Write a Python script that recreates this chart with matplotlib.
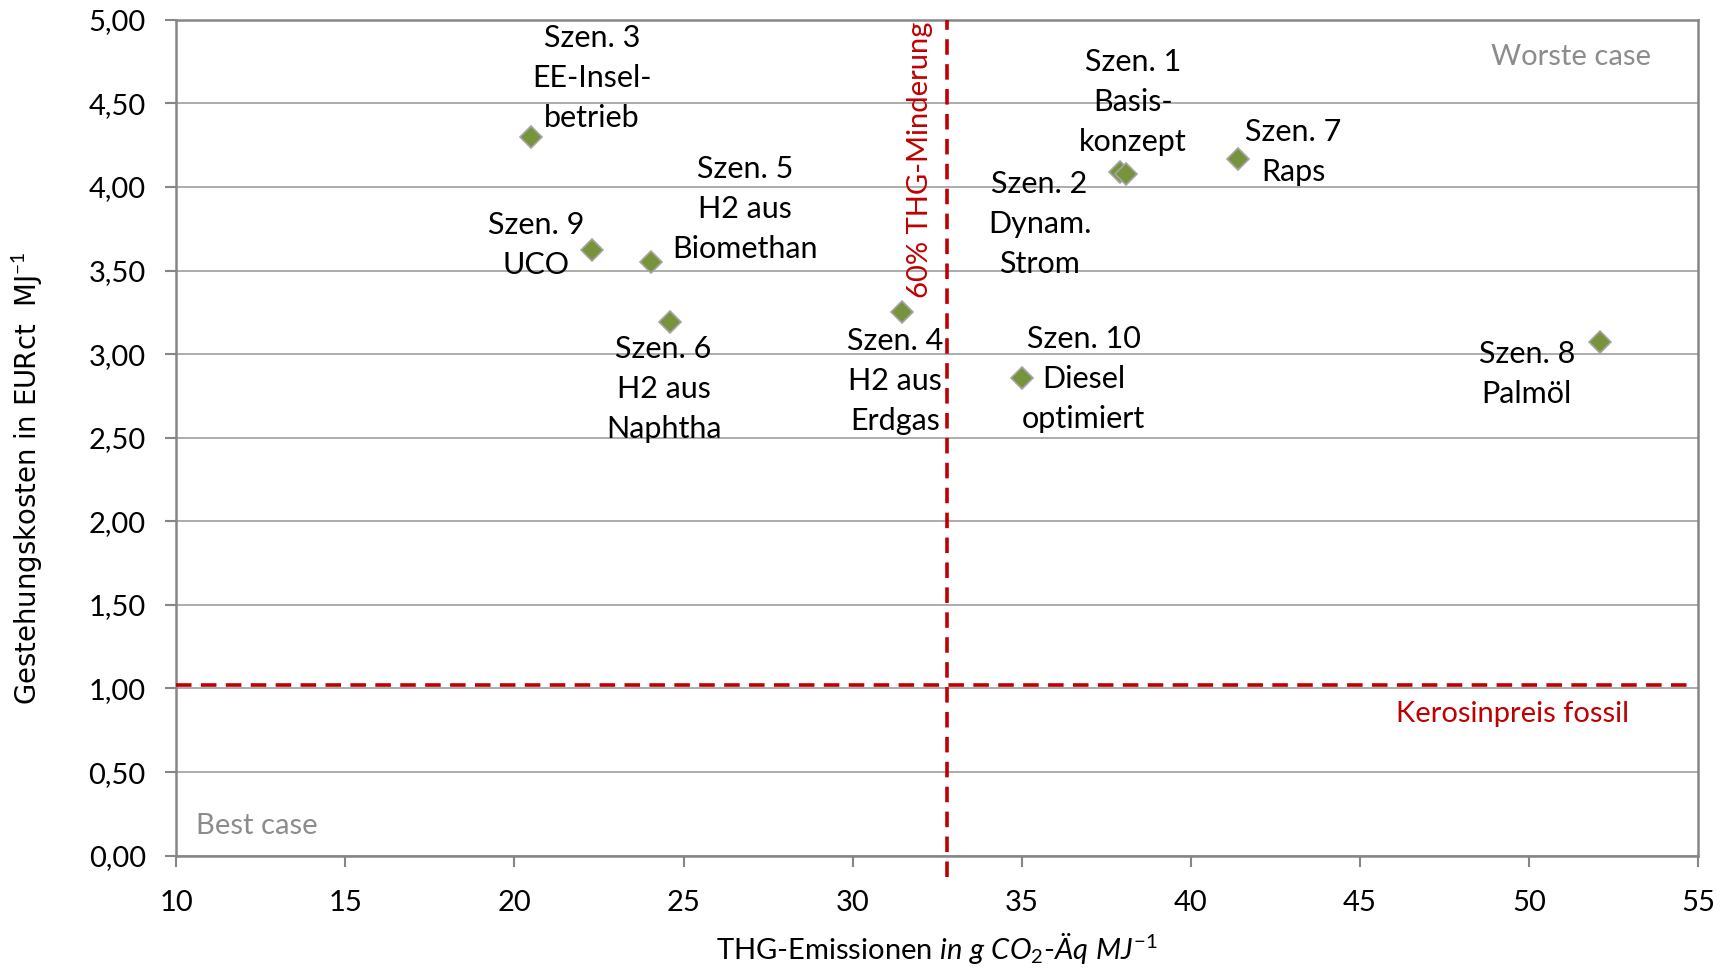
import matplotlib
matplotlib.use('Agg')
import matplotlib.pyplot as plt
from matplotlib.ticker import FuncFormatter, MultipleLocator

plt.rcParams['font.family'] = ['Lato', 'DejaVu Sans']
plt.rcParams['mathtext.fontset'] = 'custom'
plt.rcParams['mathtext.rm'] = 'Lato'
plt.rcParams['mathtext.it'] = 'Lato:italic'

# Daten der Szenarien
szenarien = ['Szen. 1\nBasis-\nkonzept', 'Szen. 2\nDynam.\nStrom', 'Szen. 3\nEE-Insel-\nbetrieb',
             'Szen. 4\nH2 aus\nErdgas', 'Szen. 5\nH2 aus\nBiomethan', 'Szen. 6\nH2 aus\nNaphtha',
             'Szen. 7\nRaps', 'Szen. 8\nPalmöl', 'Szen. 9\nUCO', 'Szen. 10\nDiesel\noptimiert']
emissionen = [37.9, 38.1, 20.5, 31.45, 24.05, 24.6, 41.4, 52.1, 22.3, 35.0]
kosten = [4.09, 4.08, 4.30, 3.25, 3.55, 3.19, 4.17, 3.07, 3.62, 2.86]

thg_grenze = 32.8       # 60% THG-Minderung
kerosinpreis = 1.02     # Kerosinpreis fossil

# Lage der Beschriftungen (Mitte des Textblocks, Datenkoordinaten)
label_pos = [(38.3, 4.51), (35.53, 3.78), (22.29, 4.65), (31.26, 2.84), (26.82, 3.87),
             (24.41, 2.79), (43.03, 4.21), (49.94, 2.88), (20.63, 3.65), (36.83, 2.85)]

rot = '#C00000'
grau = '#868686'

fig = plt.figure(figsize=(17.29, 9.73), dpi=100)
ax = fig.add_axes([0.102, 0.1206, 0.880, 0.8591])

# Referenzlinien
ax.axvline(thg_grenze, ymin=-0.025, ymax=1, color=rot, lw=2.6, ls=(0, (4.3, 2.6)), clip_on=False, zorder=3)
ax.axhline(kerosinpreis, xmin=0, xmax=0.996, color=rot, lw=2.6, ls=(0, (4.3, 2.6)), zorder=3)

# Punkte
ax.plot(emissionen, kosten, ls='none', marker='D', ms=11, mfc='#77933C', mec='#A5A5A5', mew=1.2, zorder=4)

for txt, (lx, ly) in zip(szenarien, label_pos):
    ax.text(lx, ly, txt, ha='center', va='center', fontsize=22, linespacing=1.52, zorder=5)

ax.text(51.25, 4.78, 'Worste case', ha='center', va='center', fontsize=21, color='#8C8C8C')
ax.text(12.38, 0.18, 'Best case', ha='center', va='center', fontsize=21, color='#8C8C8C')
ax.text(49.52, 0.845, 'Kerosinpreis fossil', ha='center', va='center', fontsize=21, color=rot)
ax.text(31.98, 4.16, '60% THG-Minderung', ha='center', va='center', fontsize=21, color=rot, rotation=90)

ax.set_xlim(10, 55)
ax.set_ylim(0, 5)
ax.xaxis.set_major_locator(MultipleLocator(5))
ax.yaxis.set_major_locator(MultipleLocator(0.5))
ax.yaxis.set_major_formatter(FuncFormatter(lambda v, p: '{:.2f}'.format(v).replace('.', ',')))
ax.grid(axis='y', color='#A6A6A6', lw=1.3)
ax.set_axisbelow(True)
for s in ax.spines.values():
    s.set_color(grau)
    s.set_linewidth(1.8)
ax.tick_params(direction='out', length=8, width=1.5, color=grau, labelsize=21, pad=14)
ax.tick_params(axis='x', pad=17)

fig.text(937 / 1729, 1 - 948 / 973,
         r'THG-Emissionen $\mathit{in\ g\ CO_2\text{-}Äq\ MJ^{-1}}$',
         ha='center', va='center', fontsize=21)
fig.text(27.6 / 1729, 1 - 478 / 973, r'Gestehungskosten in EURct  MJ$^{-1}$',
         ha='center', va='center', rotation=90, fontsize=19.8, family='DejaVu Sans')

fig.savefig('out.png', dpi=100)
